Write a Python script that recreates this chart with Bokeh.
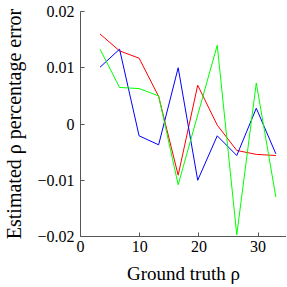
from bokeh.plotting import figure
from bokeh.models import Range1d, FixedTicker
from bokeh.embed import file_html
from bokeh.resources import INLINE

x = [3.3, 6.6, 9.9, 13.2, 16.5, 19.8, 23.1, 26.4, 29.7, 33.0]
red = [0.0160, 0.0130, 0.0117, 0.0049, -0.0091, 0.0069, -0.0002, -0.0047, -0.0054, -0.0056]
blue = [0.0101, 0.0133, -0.0021, -0.0037, 0.0100, -0.0100, -0.0021, -0.0056, 0.0028, -0.0053]
green = [0.0133, 0.0065, 0.0063, 0.0050, -0.0108, 0.0016, 0.0140, -0.0197, 0.0073, -0.0130]

xticks = [0, 10, 20, 30]
yticks = [-0.02, -0.01, 0, 0.01, 0.02]
ytick_labels = {-0.02: "\u22120.02", -0.01: "\u22120.01", 0: "0", 0.01: "0.01", 0.02: "0.02"}

FONT = "Liberation Serif"

p = figure(width=286, height=286, output_backend="svg", toolbar_location=None,
           x_range=Range1d(0, 34.8), y_range=Range1d(-0.02, 0.02),
           min_border_left=79, min_border_right=0, min_border_top=11, min_border_bottom=50)
p.outline_line_color = None
p.xgrid.visible = False
p.ygrid.visible = False

p.line(x, red, line_color="#ff0000", line_width=1)
p.line(x, blue, line_color="#0000ff", line_width=1)
p.line(x, green, line_color="#00ff00", line_width=1)

for ax in (p.xaxis[0], p.yaxis[0]):
    ax.axis_line_color = "#555555"
    ax.major_tick_line_color = "#555555"
    ax.major_tick_in = 4
    ax.major_tick_out = 0
    ax.minor_tick_line_color = None
    ax.major_label_text_font = FONT
    ax.major_label_text_font_size = "16px"
    ax.major_label_text_color = "#000000"
    ax.axis_label_text_font = FONT
    ax.axis_label_text_font_style = "normal"
    ax.axis_label_text_color = "#000000"

p.xaxis.axis_label_text_font_size = "19px"
p.yaxis.axis_label_text_font_size = "20px"
p.xaxis.ticker = FixedTicker(ticks=xticks)
p.yaxis.ticker = FixedTicker(ticks=yticks)
p.yaxis.major_label_overrides = ytick_labels
p.xaxis.axis_label = "Ground truth \u03c1"
p.yaxis.axis_label = "Estimated \u03c1 percentage error"
p.xaxis.major_label_standoff = 4
p.yaxis.major_label_standoff = 6
p.xaxis.axis_label_standoff = 8
p.yaxis.axis_label_standoff = 9

open("out.html", "w").write(file_html(p, INLINE))
